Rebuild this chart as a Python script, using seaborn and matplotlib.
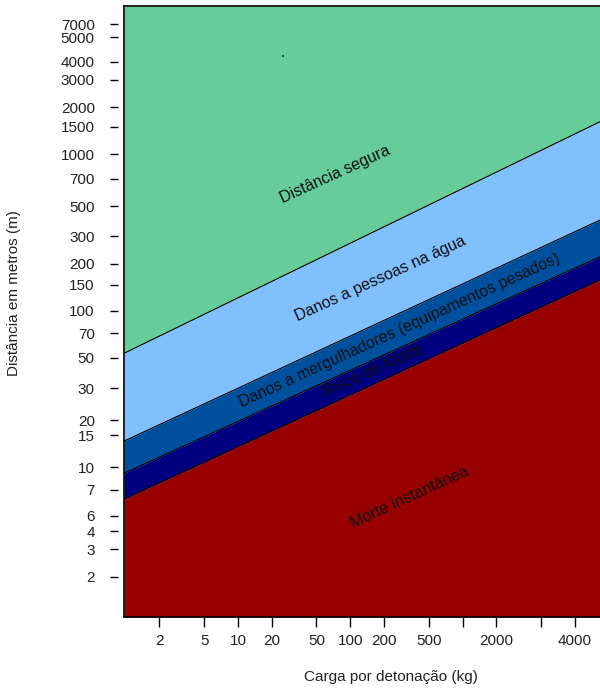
import matplotlib
matplotlib.use("Agg")
import matplotlib.pyplot as plt
import seaborn as sns
import pandas as pd

# ---- data ----
charge_kg = [0.967, 16750]                 # x extent of the chart
distance_limits_m = [1.105, 8870]          # y extent of the chart
safe_limit_m = [53.5, 1616]                # Distância segura / Danos a pessoas
swimmer_limit_m = [14.7, 380]              # Danos a pessoas / Danos a mergulhadores
diver_limit_m = [9.16, 221.7]              # Danos a mergulhadores / Risco de Morte
death_risk_limit_m = [6.25, 157.3]         # Risco de Morte / Morte instantânea

zone_names = ["Distância segura", "Danos a pessoas na água",
              "Danos a mergulhadores (equipamentos pesados)",
              "Risco de Morte", "Morte instantânea"]
zone_colors = ["#66CC99", "#80C0FF", "#00509E", "#000080", "#990000"]
zone_label_x = [73, 184, 277, 159, 340]
zone_label_y = [748, 160, 75.4, 41.3, 6.46]

x_tick_values = [2, 5, 10, 20, 50, 100, 200, 500, 1000, 2000, 5000, 10000]
x_tick_labels = ["2", "5", "10", "20", "50", "100", "200", "500", "", "2000", "", "4000"]
y_tick_values = [2, 3, 3.9, 4.9, 7.2, 10, 16, 20, 32, 50, 72, 100, 147, 200, 300,
                 465, 700, 1000, 1500, 2000, 3000, 3900, 5600, 6800]
y_tick_labels = ["2", "3", "4", "6", "7", "10", "15", "20", "30", "50", "70", "100",
                 "150", "200", "300", "500", "700", "1000", "1500", "2000", "3000",
                 "4000", "5000", "7000"]
stray_point = ([25.2], [4250])

x_label = "Carga por detonação (kg)"
y_label = "Distância em metros (m)"

# ---- style ----
sns.set_style("white")
plt.rcParams["font.family"] = ["Liberation Sans", "DejaVu Sans"]

fig = plt.figure(figsize=(6, 6.88), dpi=100)
ax = fig.add_axes([124 / 600, 1 - 617 / 688, 476 / 600, 611 / 688])
ax.set_xscale("log")
ax.set_yscale("log")

lo, hi = distance_limits_m
bounds = [[hi, hi], safe_limit_m, swimmer_limit_m, diver_limit_m, death_risk_limit_m, [lo, lo]]
for i, col in enumerate(zone_colors):
    ax.fill_between(charge_kg, bounds[i + 1], bounds[i], color=col, linewidth=0)

lines = pd.DataFrame({
    "charge": charge_kg * 4,
    "dist": safe_limit_m + swimmer_limit_m + diver_limit_m + death_risk_limit_m,
    "limit": sum([[k, k] for k in range(4)], []),
})
sns.lineplot(data=lines, x="charge", y="dist", units="limit", estimator=None,
             color="black", linewidth=0.8, ax=ax, legend=False)

sns.scatterplot(x=stray_point[0], y=stray_point[1], color="#1a5a3a", s=3,
                marker="s", linewidth=0, ax=ax)

for name, lx, ly in zip(zone_names, zone_label_x, zone_label_y):
    ax.text(lx, ly, name, rotation=24.5, rotation_mode="anchor", ha="center",
            va="center", fontsize=11.5, color="#111111")

ax.set_xlim(charge_kg)
ax.set_ylim(distance_limits_m)
ax.set_xticks(x_tick_values)
ax.set_xticklabels(x_tick_labels)
ax.set_xticks([], minor=True)
ax.set_yticks(y_tick_values)
ax.set_yticklabels(y_tick_labels)
ax.set_yticks([], minor=True)
ax.set_xlabel("")
ax.set_ylabel("")

ax.spines["right"].set_visible(False)
ax.spines["left"].set_position(("outward", 4))
ax.spines["left"].set_visible(False)
for s in ["top", "bottom"]:
    ax.spines[s].set_color("black")
    ax.spines[s].set_linewidth(1.2)
ax.plot([0, 0], [0, 1], transform=ax.transAxes, color="black", lw=1.2, clip_on=False)

ax.tick_params(axis="y", which="major", left=True, direction="out", length=6,
               width=1, pad=11, labelsize=11, colors="black")
ax.tick_params(axis="x", which="major", bottom=True, direction="out", length=7,
               width=1, pad=5, labelsize=11, colors="black")
for t in ax.get_xticklabels() + ax.get_yticklabels():
    t.set_color("#222222")

fig.text(14 / 600, 1 - 293 / 688, y_label, rotation=90, ha="center", va="center",
         fontsize=11, color="#222222")
fig.text(391 / 600, 1 - 677 / 688, x_label, ha="center", va="center",
         fontsize=11, color="#222222")

fig.savefig("out.png", dpi=100)
